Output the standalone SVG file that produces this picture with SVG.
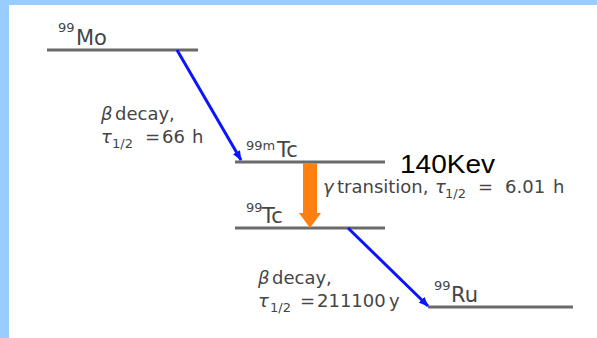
<svg xmlns="http://www.w3.org/2000/svg" width="597" height="338" viewBox="0 0 597 338">
<style>
.lvl{stroke:#6a6a6a;stroke-width:3;fill:none}
.lab{font-family:"DejaVu Sans","Liberation Sans",sans-serif;font-size:18px;fill:#454545}
.sym{font-size:21px}
.sup{font-size:13px}
.sub{font-size:13px}
.mth{font-style:italic}
.beta{stroke:#0a14ff;stroke-width:3;fill:none}
</style>
<defs>
<marker id="ah" markerWidth="10" markerHeight="8" refX="9" refY="4" orient="auto" markerUnits="userSpaceOnUse">
<path d="M0,0 L10,4 L0,8 Z" fill="#0a14ff"/>
</marker>
</defs>
<rect width="597" height="338" fill="#ffffff"/>
<rect x="0" y="0" width="597" height="5" fill="#99ccff"/>
<rect x="0" y="0" width="9" height="338" fill="#99ccff"/>

<g id="mo99">
<line class="lvl" x1="47" y1="50" x2="198" y2="50"/>
<text class="lab sup" x="58" y="32">99</text>
<text class="lab sym" x="76" y="45">Mo</text>
</g>

<g id="tc99m">
<line class="lvl" x1="235" y1="162" x2="385" y2="162"/>
<text class="lab sup" x="246" y="150">99m</text>
<text class="lab sym" x="277" y="157">Tc</text>
</g>

<g id="tc99">
<line class="lvl" x1="235" y1="228" x2="385" y2="228"/>
<text class="lab sup" x="246" y="212">99</text>
<text class="lab sym" x="262" y="223">Tc</text>
</g>

<g id="ru99">
<line class="lvl" x1="428" y1="307" x2="573" y2="307"/>
<text class="lab sup" x="434" y="290">99</text>
<text class="lab sym" x="451" y="302">Ru</text>
</g>

<g id="connectors">
<line class="beta" x1="177" y1="50" x2="241" y2="160" marker-end="url(#ah)"/>
<line class="beta" x1="348" y1="228" x2="428" y2="306" marker-end="url(#ah)"/>
<polygon points="303,163 317,163 317,213 321,213 310,228 299,213 303,213" fill="#ff8010"/>
</g>

<g id="label-beta1">
<text class="lab mth" x="101" y="120">β</text>
<text class="lab" x="115" y="120">decay,</text>
<text class="lab mth" x="101" y="143">τ</text>
<text class="lab sub" x="112" y="148">1/2</text>
<text class="lab" x="145" y="143">=</text>
<text class="lab" x="162" y="143">66</text>
<text class="lab" x="192" y="143">h</text>
</g>

<g id="label-gamma">
<text class="lab mth" x="323" y="193">γ</text>
<text class="lab" x="337" y="193">transition,</text>
<text class="lab mth" x="435" y="193">τ</text>
<text class="lab sub" x="445" y="198">1/2</text>
<text class="lab" x="478" y="193">=</text>
<text class="lab" x="505" y="193">6.01</text>
<text class="lab" x="553" y="193">h</text>
</g>

<g id="label-beta2">
<text class="lab mth" x="258" y="284">β</text>
<text class="lab" x="272" y="284">decay,</text>
<text class="lab mth" x="258" y="307">τ</text>
<text class="lab sub" x="270" y="312">1/2</text>
<text class="lab" x="300" y="307">=</text>
<text class="lab" x="317" y="307">211100</text>
<text class="lab" x="389" y="307">y</text>
</g>

<g id="energy">
<text x="400" y="173" font-family="'Liberation Sans',Arial,sans-serif" font-size="25" fill="#000" textLength="95" lengthAdjust="spacingAndGlyphs">140Kev</text>
</g>
</svg>
